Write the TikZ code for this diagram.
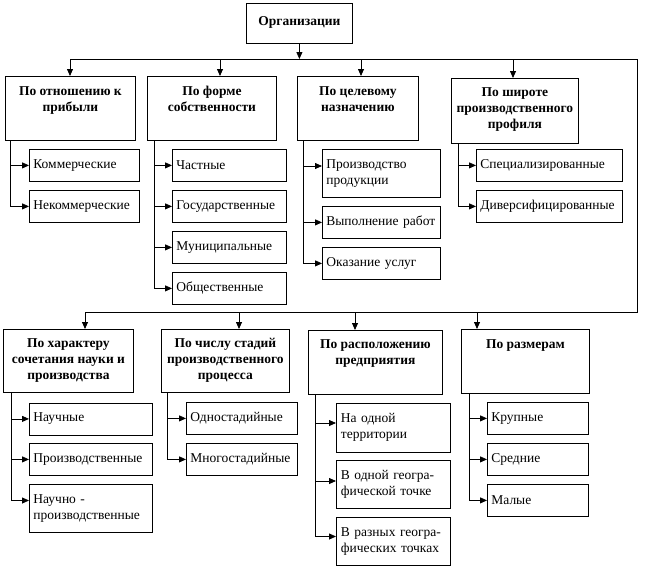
\documentclass[tikz,border=0pt]{standalone}
\usepackage{fontspec}
\setmainfont{Liberation Serif}
\usetikzlibrary{arrows.meta}
\begin{document}
\begin{tikzpicture}[x=1pt,y=-1pt,
  hbox/.style={draw, line width=0.8pt, inner sep=0pt, anchor=north west},
  head/.style={font=\bfseries\fontsize{13.5}{16}\selectfont, align=center, inner sep=0pt, anchor=north},
  item/.style={draw, line width=0.8pt, anchor=north west, inner xsep=4pt, inner ysep=0pt, align=left,
    font=\fontsize{13.5}{16.5}\selectfont},
  ln/.style={line width=0.8pt},
  arr/.style={line width=0.8pt, -{Triangle[length=7pt,width=6pt]}}]
\useasboundingbox (0,0) rectangle (645,570);

% root
\node[hbox, minimum width=106pt, minimum height=40pt, font=\bfseries\fontsize{13.5}{16}\selectfont] (org) at (246,2.5) {Организации};

% level 1 headings
\node[hbox, minimum width=130pt, minimum height=64pt] (b1) at (5,76) {};
\node[head] (b1t) at ([yshift=-10pt]b1.north) {По отношению к\\прибыли};
\node[hbox, minimum width=129pt, minimum height=64pt] (b2) at (147,76) {};
\node[head] (b2t) at ([yshift=-10pt]b2.north) {По форме\\собственности};
\node[hbox, minimum width=121pt, minimum height=64pt] (b3) at (297,76) {};
\node[head] (b3t) at ([yshift=-10pt]b3.north) {По целевому\\назначению};
\node[hbox, minimum width=127pt, minimum height=65pt] (b4) at (451,78) {};
\node[head] (b4t) at ([yshift=-9pt]b4.north) {По широте\\производственного\\профиля};

% level 2 headings
\node[hbox, minimum width=130pt, minimum height=63pt] (b5) at (3,329) {};
\node[head] (b5t) at ([yshift=-9pt]b5.north) {По характеру\\сочетания науки и\\производства};
\node[hbox, minimum width=128pt, minimum height=63pt] (b6) at (161,329) {};
\node[head] (b6t) at ([yshift=-9pt]b6.north) {По числу стадий\\производственного\\процесса};
\node[hbox, minimum width=134pt, minimum height=64pt] (b7) at (308,330) {};
\node[head] (b7t) at ([yshift=-9pt]b7.north) {По расположению\\предприятия};
\node[hbox, minimum width=128pt, minimum height=64pt] (b8) at (461,329) {};
\node[head] (b8t) at ([yshift=-10pt]b8.north) {По размерам};

% items
\node[item, text width=102pt, minimum height=32pt] (c11) at (29,149) {Коммерческие};
\node[item, text width=102pt, minimum height=32pt] (c12) at (29,190) {Некоммерческие};
\node[item, text width=106pt, minimum height=32pt] (c21) at (172,149) {Частные};
\node[item, text width=106pt, minimum height=32pt] (c22) at (172,190) {Государственные};
\node[item, text width=106pt, minimum height=32pt] (c23) at (172,231) {Муниципальные};
\node[item, text width=106pt, minimum height=32pt] (c24) at (172,272) {Общественные};
\node[item, text width=110pt, minimum height=48pt] (c31) at (322,149) {Производство\\продукции};
\node[item, text width=110pt, minimum height=32pt] (c32) at (322,206) {Выполнение работ};
\node[item, text width=110pt, minimum height=32pt] (c33) at (322,247) {Оказание услуг};
\node[item, text width=138pt, minimum height=32pt] (c41) at (476,149) {Специализированные};
\node[item, text width=138pt, minimum height=32pt] (c42) at (476,190) {Диверсифицированные};
\node[item, text width=115pt, minimum height=32pt] (c51) at (29,402.5) {Научные};
\node[item, text width=115pt, minimum height=32pt] (c52) at (29,443) {Производственные};
\node[item, text width=115pt, minimum height=48pt] (c53) at (29,484) {Научно -\\производственные};
\node[item, text width=103pt, minimum height=32pt] (c61) at (186,402) {Одностадийные};
\node[item, text width=103pt, minimum height=32pt] (c62) at (186,443) {Многостадийные};
\node[item, text width=105pt, minimum height=49pt, inner xsep=4.5pt] (c71) at (336,402.5) {На одной\\территории};
\node[item, text width=105pt, minimum height=48pt, inner xsep=4.5pt] (c72) at (336,460) {В одной геогра-\\фической точке};
\node[item, text width=105pt, minimum height=48pt, inner xsep=4.5pt] (c73) at (336,517) {В разных геогра-\\фических точках};
\node[item, text width=93pt, minimum height=32pt] (c81) at (487,402) {Крупные};
\node[item, text width=93pt, minimum height=32pt] (c82) at (487,443) {Средние};
\node[item, text width=93pt, minimum height=32pt] (c83) at (487,484) {Малые};

% buses
\coordinate (a1) at (70,59);
\coordinate (a2) at (220,59);
\coordinate (a3) at (361,59);
\coordinate (a4) at (513,59);
\coordinate (br) at (637,59);
\coordinate (br2) at (637,312.5);
\coordinate (a5) at (85,312.5);
\coordinate (a6) at (239,312.5);
\coordinate (a7) at (355,312.5);
\coordinate (a8) at (477,312.5);

\draw[arr] (org.south) -- (org.south |- a1);
\draw[ln] (a1) -- (br) -- (br2) -- (a5);
\draw[arr] (a1) -- (a1 |- b1.north);
\draw[arr] (a2) -- (a2 |- b2.north);
\draw[arr] (a3) -- (a3 |- b3.north);
\draw[arr] (a4) -- (a4 |- b4.north);
\draw[arr] (a5) -- (a5 |- b5.north);
\draw[arr] (a6) -- (a6 |- b6.north);
\draw[arr] (a7) -- (a7 |- b7.north);
\draw[arr] (a8) -- (a8 |- b8.north);

% trunks
\coordinate (t1) at (10,0);
\coordinate (t2) at (154,0);
\coordinate (t3) at (303,0);
\coordinate (t4) at (458,0);
\coordinate (t5) at (11.7,0);
\coordinate (t6) at (167,0);
\coordinate (t7) at (315.7,0);
\coordinate (t8) at (469,0);

\draw[arr] (t1 |- b1.south) |- (c11.west);
\draw[arr] (t1 |- b1.south) |- (c12.west);
\draw[arr] (t2 |- b2.south) |- (c21.west);
\draw[arr] (t2 |- b2.south) |- (c22.west);
\draw[arr] (t2 |- b2.south) |- (c23.west);
\draw[arr] (t2 |- b2.south) |- (c24.west);
\draw[arr] (t3 |- b3.south) |- ([yshift=-17pt]c31.north west);
\draw[arr] (t3 |- b3.south) |- (c32.west);
\draw[arr] (t3 |- b3.south) |- (c33.west);
\draw[arr] (t4 |- b4.south) |- (c41.west);
\draw[arr] (t4 |- b4.south) |- (c42.west);
\draw[arr] (t5 |- b5.south) |- (c51.west);
\draw[arr] (t5 |- b5.south) |- (c52.west);
\draw[arr] (t5 |- b5.south) |- ([yshift=-16.5pt]c53.north west);
\draw[arr] (t6 |- b6.south) |- (c61.west);
\draw[arr] (t6 |- b6.south) |- (c62.west);
\draw[arr] (t7 |- b7.south) |- ([yshift=-20.5pt]c71.north west);
\draw[arr] (t7 |- b7.south) |- ([yshift=-21pt]c72.north west);
\draw[arr] (t7 |- b7.south) |- ([yshift=-19.5pt]c73.north west);
\draw[arr] (t8 |- b8.south) |- (c81.west);
\draw[arr] (t8 |- b8.south) |- (c82.west);
\draw[arr] (t8 |- b8.south) |- (c83.west);
\end{tikzpicture}
\end{document}
